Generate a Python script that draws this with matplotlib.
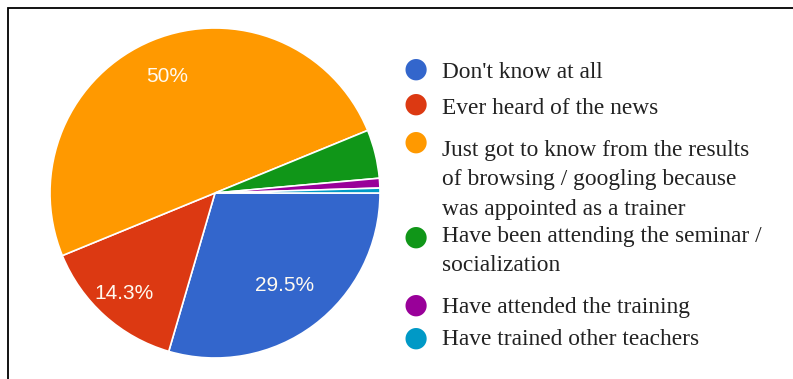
import matplotlib
matplotlib.use("Agg")
import matplotlib.pyplot as plt
import numpy as np
from matplotlib.patches import Rectangle

# ── data ────────────────────────────────────────────────────────────
categories = [
    "Don't know at all",
    "Ever heard of the news",
    "Just got to know from the results\nof browsing / googling because\nwas appointed as a trainer",
    "Have been attending the seminar /\nsocialization",
    "Have attended the training",
    "Have trained other teachers",
]
counts = [62, 30, 105, 10, 2, 1]
pct_labels = ["29.5%", "14.3%", "50%", None, None, None]

COLORS = ["#3366cc", "#dc3912", "#ff9900", "#109618", "#990099", "#0099c6"]

W, H = 793, 379
fig = plt.figure(figsize=(W / 100, H / 100), dpi=100)

# pie sits left, centre (215, 193) px, radius 165 px
cx, cy, r = 215, 193, 165
ax = fig.add_axes([(cx - r) / W, (H - cy - r) / H, 2 * r / W, 2 * r / H])
wedges, _ = ax.pie(
    counts,
    colors=COLORS,
    startangle=0,
    counterclock=False,
    radius=1.0,
    wedgeprops=dict(edgecolor="white", linewidth=1.2),
)
ax.set_xlim(-1, 1)
ax.set_ylim(-1, 1)
ax.set_aspect("equal")

# percentage labels inside the larger slices
label_dist = [0.70, 0.82, 0.76]
for w, lab, d in zip(wedges, pct_labels, label_dist):
    if lab is None:
        continue
    ang = np.deg2rad((w.theta1 + w.theta2) / 2)
    ax.text(d * np.cos(ang), d * np.sin(ang), lab, ha="center", va="center",
            color="#fffaf0", fontsize=15, family="Liberation Sans")

# legend, drawn by hand so each entry can wrap
marker_y = [69, 104, 142, 237, 305, 338]
text_y = [70, 106, 148, 234, 305, 337]
for col, txt, my, ty in zip(COLORS, categories, marker_y, text_y):
    fig.text(416 / W, 1 - my / H, "\u25cf", color=col, fontsize=20,
             ha="center", va="center", family="DejaVu Sans")
    fig.text(442 / W, 1 - (ty - 8) / H, txt, color="#222222", fontsize=16.8,
             ha="left", va="top", family="Liberation Serif", linespacing=1.52)

# frame line along top and left edges
fig.add_artist(Rectangle((8 / W, -0.2), 1.2, 1 - 8 / H + 0.2, transform=fig.transFigure,
                         fill=False, edgecolor="black", linewidth=1.3, clip_on=False))

fig.savefig("out.png", dpi=100)
